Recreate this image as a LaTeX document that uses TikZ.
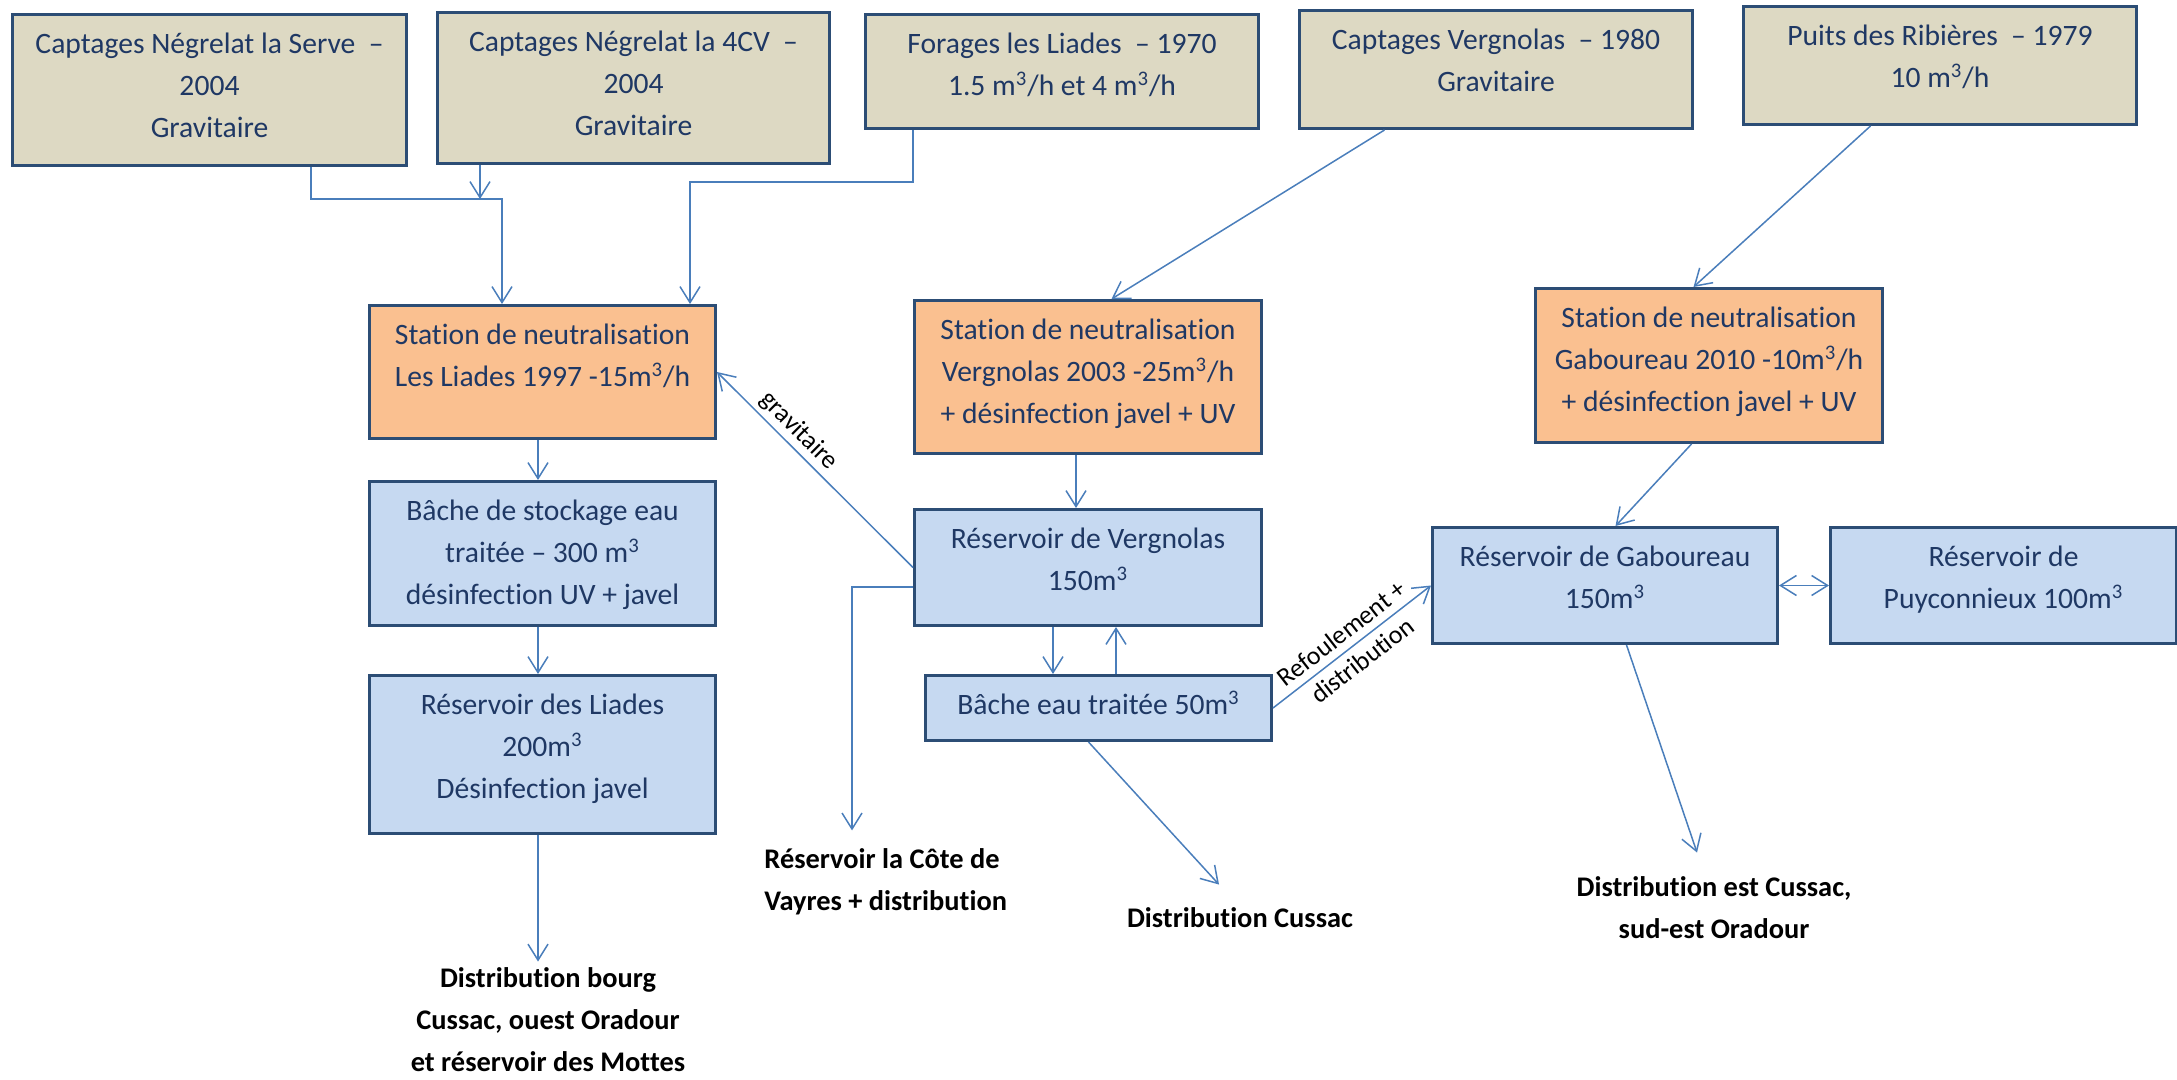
\documentclass[tikz,border=0pt]{standalone}
\usepackage{fontspec}
\setmainfont{Carlito}[Ligatures=NoCommon]
\usetikzlibrary{arrows.meta}
\definecolor{tanf}{HTML}{DDD9C3}
\definecolor{orgf}{HTML}{FAC090}
\definecolor{bluf}{HTML}{C6D9F1}
\definecolor{edc}{HTML}{2C4D75}
\definecolor{txtc}{HTML}{1F3864}
\definecolor{lnc}{HTML}{4A7EBB}
\newcommand{\bxt}[3]{\parbox[c][#2pt][t]{#1pt}{\centering\vspace*{5pt}\strut #3\par}}
\begin{document}
\begin{tikzpicture}[x=0.5pt,y=-0.5pt,
 bx/.style={draw=edc, line width=1.5pt, inner sep=0pt, anchor=north west, text=txtc, font=\fontsize{14.8}{21}\selectfont},
 arr/.style={draw=lnc, line width=0.75pt, -{Straight Barb[length=8pt,width=10pt]}},
 lbl/.style={font=\bfseries\fontsize{14.2}{21}\selectfont, inner sep=0pt, align=center},
 elab/.style={font=\fontsize{13}{17}\selectfont, inner sep=2pt, align=center, sloped}]
\useasboundingbox (0,0) rectangle (2177,1080);
% top sources
\node[bx, fill=tanf] (b1) at (11,13) {\bxt{197}{75.5}{Captages Négrelat la Serve~ –\\2004\\Gravitaire}};
\node[bx, fill=tanf] (b2) at (436,11) {\bxt{196}{75.5}{Captages Négrelat la 4CV~ –\\2004\\Gravitaire}};
\node[bx, fill=tanf] (b3) at (864,13) {\bxt{196.5}{57}{Forages les Liades~ – 1970\\1.5 m\textsuperscript{3}/h et 4 m\textsuperscript{3}/h}};
\node[bx, fill=tanf] (b4) at (1298,9) {\bxt{196.5}{59}{Captages Vergnolas~ – 1980\\Gravitaire}};
\node[bx, fill=tanf] (b5) at (1742,5) {\bxt{196.5}{59}{Puits des Ribières~ – 1979\\10 m\textsuperscript{3}/h}};
% stations
\node[bx, fill=orgf] (st1) at (368,304) {\bxt{173}{66.5}{Station de neutralisation\\Les Liades 1997 -15m\textsuperscript{3}/h}};
\node[bx, fill=orgf] (st2) at (913,299) {\bxt{173.5}{76.5}{Station de neutralisation\\Vergnolas 2003 -25m\textsuperscript{3}/h\\+ désinfection javel + UV}};
\node[bx, fill=orgf] (st3) at (1534,287) {\bxt{173.5}{77}{Station de neutralisation\\Gaboureau 2010 -10m\textsuperscript{3}/h\\+ désinfection javel + UV}};
% reservoirs
\node[bx, fill=bluf] (bs) at (368,480) {\bxt{173}{72}{Bâche de stockage eau\\traitée – 300 m\textsuperscript{3}\\désinfection UV + javel}};
\node[bx, fill=bluf] (rl) at (368,674) {\bxt{173}{79}{Réservoir des Liades\\200m\textsuperscript{3}\\Désinfection javel}};
\node[bx, fill=bluf] (rv) at (913,508) {\bxt{173.5}{58}{Réservoir de Vergnolas\\150m\textsuperscript{3}}};
\node[bx, fill=bluf] (b50) at (924,674) {\bxt{173}{32.5}{Bâche eau traitée 50m\textsuperscript{3}}};
\node[bx, fill=bluf] (rg) at (1431,526) {\bxt{172.5}{58}{Réservoir de Gaboureau\\150m\textsuperscript{3}}};
\node[bx, fill=bluf] (rp) at (1829,526) {\bxt{173}{58}{Réservoir de\\Puyconnieux 100m\textsuperscript{3}}};
% outputs
\node[lbl] (d1) at (548,1020) {Distribution bourg\\Cussac, ouest Oradour\\et réservoir des Mottes};
\node[lbl, align=left, anchor=west] (d2) at (764,882) {Réservoir la Côte de\\Vayres + distribution};
\node[lbl] (d3) at (1240,918) {Distribution Cussac};
\node[lbl] (d4) at (1714,908) {Distribution est Cussac,\\sud-est Oradour};
% junction coordinates
\coordinate (j0) at (311,199);
\coordinate (j1) at (502,199);
\coordinate (j2) at (480,199);
\coordinate (j3) at (913,182);
\coordinate (j4) at (690,182);
\coordinate (x1) at (1053,0);
\coordinate (x2) at (1116,0);
\coordinate (x3) at (1076,0);
\coordinate (x4) at (538,0);
\coordinate (cj) at (852,587);
% connectors
\draw[arr] (b1.south -| j0) -- (j0) -- (j1) -- (st1.north -| j1);
\draw[arr] (b2.south -| j2) -- (j2);
\draw[arr] (b3.south -| j3) -- (j3) -- (j4) -- (st1.north -| j4);
\draw[arr] ([xshift=-55.75pt]b4.south) -- ([xshift=11.75pt]st2.north);
\draw[arr] ([xshift=-34.75pt]b5.south) -- ([xshift=-7.75pt]st3.north);
\draw[arr] (st1.south -| x4) -- (bs.north -| x4);
\draw[arr] (bs.south -| x4) -- (rl.north -| x4);
\draw[arr, shorten >=3pt] (rl.south -| x4) -- (d1.north -| x4);
\draw[arr] (rv.west) -- node[elab, above, pos=0.64]{gravitaire} (st1.east);
\draw[arr] (st2.south -| x3) -- (rv.north -| x3);
\draw[arr] (rv.south -| x1) -- (b50.north -| x1);
\draw[arr] (b50.north -| x2) -- (rv.south -| x2);
\draw[arr, shorten >=9pt] (rv.west |- cj) -- (cj) -- (cj |- d2.north);
\draw[arr] ([xshift=-5pt]b50.south) -- ([xshift=-10.5pt,yshift=11.5pt]d3.north);
\draw[arr] (b50.east) -- node[elab]{Refoulement +\\distribution} (rg.west);
\draw[arr] ([xshift=-8.75pt]st3.south) -- ([xshift=5.25pt]rg.north);
\draw[draw=lnc, line width=0.75pt, {Straight Barb[length=8pt,width=10pt]}-{Straight Barb[length=8pt,width=10pt]}] (rg.east) -- (rp.west);
\draw[arr] ([xshift=10.75pt]rg.south) -- ([xshift=-8.5pt,yshift=12pt]d4.north);
\end{tikzpicture}
\end{document}
